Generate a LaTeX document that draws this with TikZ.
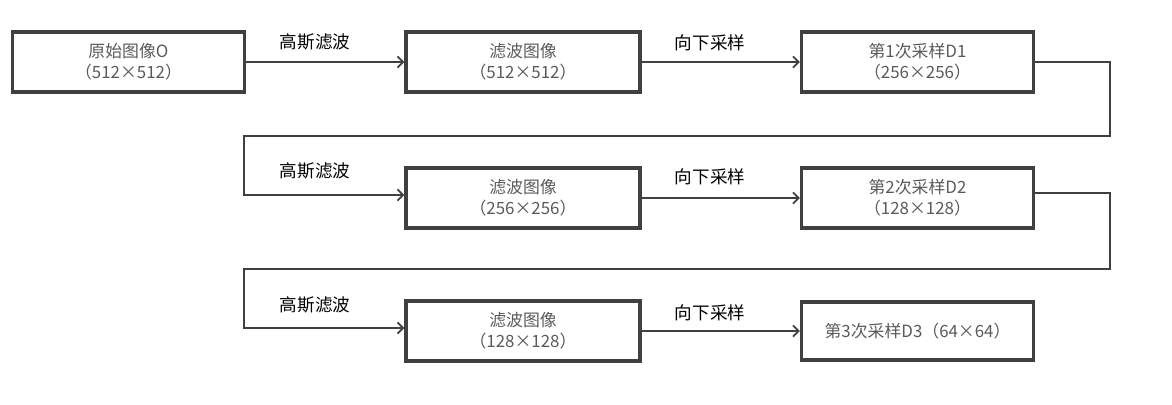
\documentclass[tikz,border=0pt]{standalone}
\usepackage{fontspec}
\setmainfont{Noto Sans CJK SC}
\usetikzlibrary{arrows.meta}
\definecolor{linegray}{HTML}{404040}
\definecolor{textgray}{HTML}{5A5A5A}
\tikzset{
  box/.style={draw=linegray, line width=2.2pt, minimum width=6.6cm, minimum height=1.5cm, text=textgray, align=center, font=\fontsize{12}{15}\selectfont},
  lab/.style={text=black, font=\fontsize{12.5}{14}\selectfont},
  conn/.style={draw=linegray, line width=1.3pt, -{Straight Barb[length=4pt,width=8pt]}},
}
\begin{document}
\begin{tikzpicture}[x=0.025cm,y=-0.025cm]
			\useasboundingbox (0,0) rectangle (1172,404);
			\node[box, minimum width=5.8cm] (O) at (128.5,62) {原始图像O\\（512×512）};
			\node[box, minimum width=5.85cm] (F1) at (523,62) {滤波图像\\（512×512）};
			\node[box, minimum width=5.8cm] (D1) at (917.5,62) {第1次采样D1\\（256×256）};
			\node[box, minimum width=5.85cm] (F2) at (523,198) {滤波图像\\（256×256）};
			\node[box, minimum width=5.8cm] (D2) at (917.5,198) {第2次采样D2\\（128×128）};
			\node[box, minimum width=5.85cm] (F3) at (523,331) {滤波图像\\（128×128）};
			\node[box, minimum width=5.8cm, minimum height=1.45cm] (D3) at (917.5,331) {第3次采样D3（64×64）};
			
			\coordinate (r1) at (1110,62);
			\coordinate (r2) at (1110,136);
			\coordinate (l2) at (244,136);
			\coordinate (l2b) at (244,195);
			\coordinate (r3) at (1110,193);
			\coordinate (r4) at (1110,269);
			\coordinate (l4) at (244,269);
			\coordinate (l4b) at (244,328);
			
			\node[lab] (g1) at (315,42) {高斯滤波};
			\node[lab] (s1) at (710,43) {向下采样};
			\node[lab] (g2) at (315,171) {高斯滤波};
			\node[lab] (s2) at (710,177) {向下采样};
			\node[lab] (g3) at (315,305) {高斯滤波};
			\node[lab] (s3) at (710,313) {向下采样};
			
			\path [conn] (O) -- (F1);
			\path [conn] (F1) -- (D1);
			\path [conn] (D1.east) -- (r1) -- (r2) -- (l2) -- (l2b) -- (l2b -| F2.west);
			\path [conn] (F2) -- (D2);
			\path [conn] (D2.east |- r3) -- (r3) -- (r4) -- (l4) -- (l4b) -- (l4b -| F3.west);
			\path [conn] (F3) -- (D3);
\end{tikzpicture}
\end{document}
